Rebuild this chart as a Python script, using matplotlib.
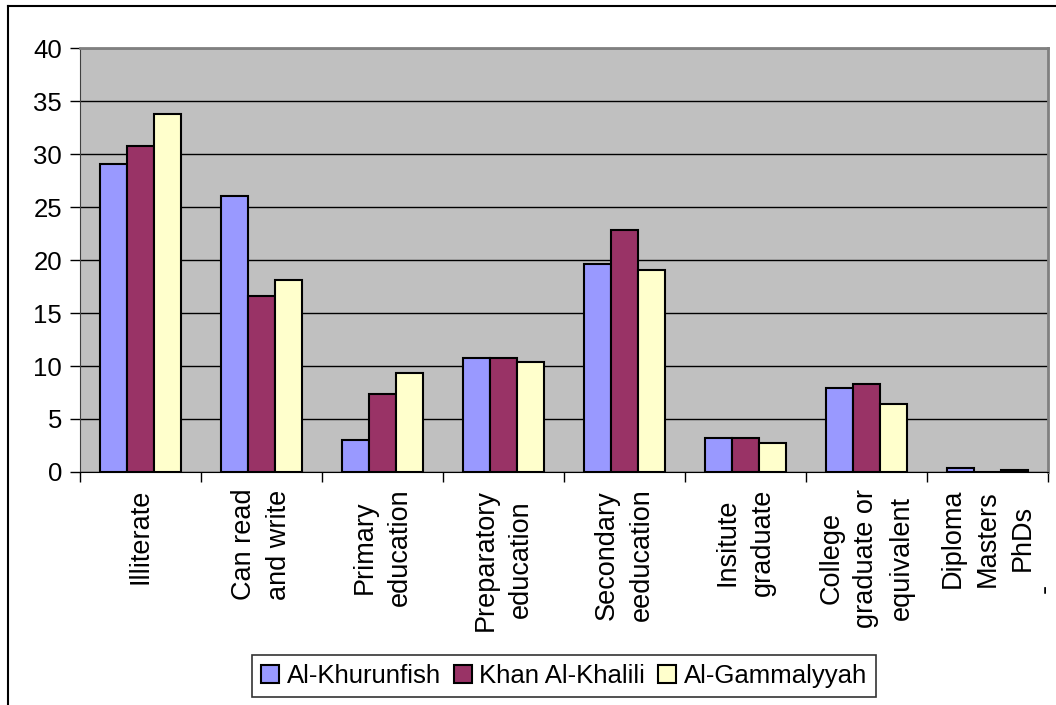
import matplotlib.pyplot as plt
from matplotlib.lines import Line2D
import numpy as np

plt.rcParams['font.family'] = ['Liberation Sans', 'DejaVu Sans']

# data
categories = ["Illiterate", "Can read\nand write", "Primary\neducation",
              "Preparatory\neducation", "Secondary\needucation",
              "Insitute\ngraduate", "College\ngraduate or\nequivalent",
              "Diploma\nMasters\nPhDs"]
series_names = ["Al-Khurunfish", "Khan Al-Khalili", "Al-Gammalyyah"]
khurunfish = [29.1, 26.0, 3.0, 10.8, 19.6, 3.2, 7.9, 0.4]
khan_khalili = [30.8, 16.6, 7.4, 10.8, 22.8, 3.2, 8.3, 0.0]
gammalyyah = [33.8, 18.1, 9.3, 10.4, 19.1, 2.7, 6.4, 0.2]
colors_ = ["#9999FF", "#993366", "#FFFFCC"]

fig = plt.figure(figsize=(10.56, 7.05), dpi=100)
ax = fig.add_axes([0.0758, 0.3305, 0.9166, 0.6014])
ax.set_facecolor("#C0C0C0")

x = np.arange(len(categories))
w = 0.225
for i, (vals, name) in enumerate(zip([khurunfish, khan_khalili, gammalyyah], series_names)):
    ax.bar(x + (i - 1) * w, vals, width=w, color=colors_[i], edgecolor="black",
           linewidth=1.5, label=name, zorder=3)

ax.set_ylim(0, 40)
ax.set_xlim(-0.5, len(categories) - 0.5)
ax.set_yticks(np.arange(0, 41, 5))
ax.yaxis.grid(True, color="black", linewidth=1, zorder=0)
ax.set_axisbelow(True)
ax.tick_params(axis="y", labelsize=18.5, length=7, width=1, direction="out", pad=6)

# ticks between categories, labels at centres
ax.set_xticks(np.arange(-0.5, len(categories), 1))
ax.set_xticklabels([])
ax.tick_params(axis="x", which="major", length=7, width=1, direction="out")
ax.set_xticks(x, minor=True)
ax.set_xticklabels(categories, minor=True, rotation=90, fontsize=19.5,
                   va="top", ha="center", multialignment="center", linespacing=1.45)
ax.tick_params(axis="x", which="minor", length=0, pad=12)

ax.spines["top"].set_color("#808080")
ax.spines["right"].set_color("#808080")
ax.spines["top"].set_linewidth(2)
ax.spines["right"].set_linewidth(2)
ax.spines["left"].set_color("#404040")
ax.spines["bottom"].set_color("black")

leg = ax.legend(loc="center", bbox_to_anchor=(0.534, 0.041),
                bbox_transform=fig.transFigure, ncol=3, fontsize=18.5,
                frameon=True, fancybox=False, edgecolor="black",
                handlelength=0.7, handleheight=0.7, handletextpad=0.3,
                columnspacing=0.5, borderpad=0.35)
leg.get_frame().set_linewidth(1.2)

fig.text(1045 / 1056, 1 - 588 / 705, "-", fontsize=19.5, rotation=90,
         ha="center", va="center")

# outer border (left and top only)
fig.add_artist(Line2D([8 / 1056, 8 / 1056], [0, 1 - 6 / 705], color="black", linewidth=1.5))
fig.add_artist(Line2D([8 / 1056, 1], [1 - 6 / 705, 1 - 6 / 705], color="black", linewidth=1.5))

fig.savefig("out.png", dpi=100)
